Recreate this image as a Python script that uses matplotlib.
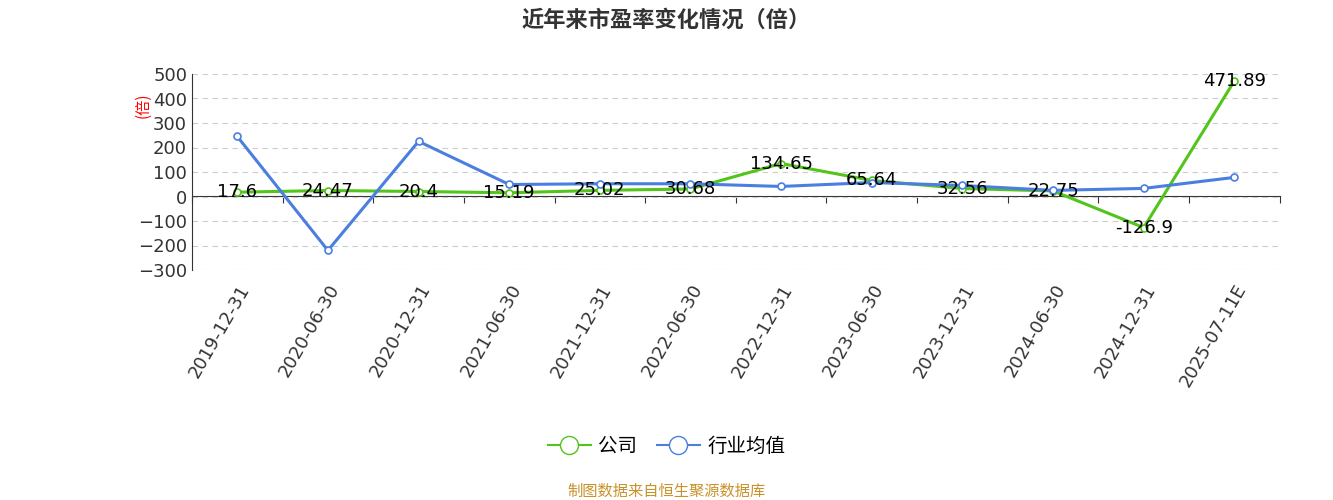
import matplotlib
matplotlib.use("Agg")
import matplotlib.pyplot as plt
from matplotlib.lines import Line2D

plt.rcParams['font.family'] = ['Noto Sans CJK SC', 'DejaVu Sans']

categories = ["2019-12-31","2020-06-30","2020-12-31","2021-06-30","2021-12-31","2022-06-30",
              "2022-12-31","2023-06-30","2023-12-31","2024-06-30","2024-12-31","2025-07-11E"]
company = [17.6, 24.47, 20.4, 15.19, 25.02, 30.68, 134.65, 65.64, 32.56, 22.75, -126.9, 471.89]
industry = [245, -220, 225, 49, 52, 52, 41, 57, 45, 25, 33, 78]

fig = plt.figure(figsize=(13.33, 5), dpi=100)
ax = fig.add_axes([0.144, 0.46, 0.816, 0.392])
x = list(range(len(categories)))
green = '#52c41a'
blue = '#4a7fe0'
ax.plot(x, company, color=green, lw=2.2, marker='o', ms=5, mfc='white', mec=green, mew=1.2, zorder=3)
ax.plot(x, industry, color=blue, lw=2.2, marker='o', ms=5, mfc='white', mec=blue, mew=1.2, zorder=3)
for xi, v in zip(x, company):
    ax.text(xi, v, f"{v:g}", ha='center', va='center', fontsize=13, color='black', zorder=4,
            family='DejaVu Sans')

ax.set_xlim(-0.5, len(categories) - 0.5)
ax.set_ylim(-300, 500)
ax.set_yticks(range(-300, 501, 100))
ax.tick_params(axis='y', labelsize=13, length=0, colors='#333333')
ax.set_xticks(x)
ax.set_xticklabels(categories)
plt.setp(ax.get_xticklabels(), rotation=60, ha='right', rotation_mode='anchor',
         fontsize=13, color='#333333', family='DejaVu Sans')
ax.tick_params(axis='x', length=0, pad=8)
for lbl in ax.get_yticklabels():
    lbl.set_family('DejaVu Sans')
ax.yaxis.grid(True, ls=(0, (5, 4)), color='#cccccc')
for s in ['top', 'right', 'bottom']:
    ax.spines[s].set_visible(False)
ax.spines['left'].set_color('#333333')

sec = ax.secondary_xaxis(0.375)
sec.set_xticks([i + 0.5 for i in range(-1, len(categories))])
sec.set_xticklabels([])
sec.tick_params(axis='x', length=5, color='#333333')
sec.spines['bottom'].set_color('#333333')

fig.text(0.107, 0.79, '(倍)', color='red', rotation=90, fontsize=11, ha='center', va='center')
fig.text(0.5, 0.96, '近年来市盈率变化情况（倍）', ha='center', va='center', fontsize=16, fontweight='bold', color='#333333')

handles = [Line2D([], [], color=green, lw=1.5, marker='o', ms=13, mfc='white', mec=green),
           Line2D([], [], color=blue, lw=1.5, marker='o', ms=13, mfc='white', mec=blue)]
fig.legend(handles, ['公司', '行业均值'], loc='center', bbox_to_anchor=(0.5, 0.108), ncol=2,
           frameon=False, fontsize=14, handlelength=2.2, columnspacing=1.0, handletextpad=0.4)
fig.text(0.5, 0.018, '制图数据来自恒生聚源数据库', ha='center', va='center', fontsize=11, color='#c8922a')
fig.savefig('out.png', dpi=100)
